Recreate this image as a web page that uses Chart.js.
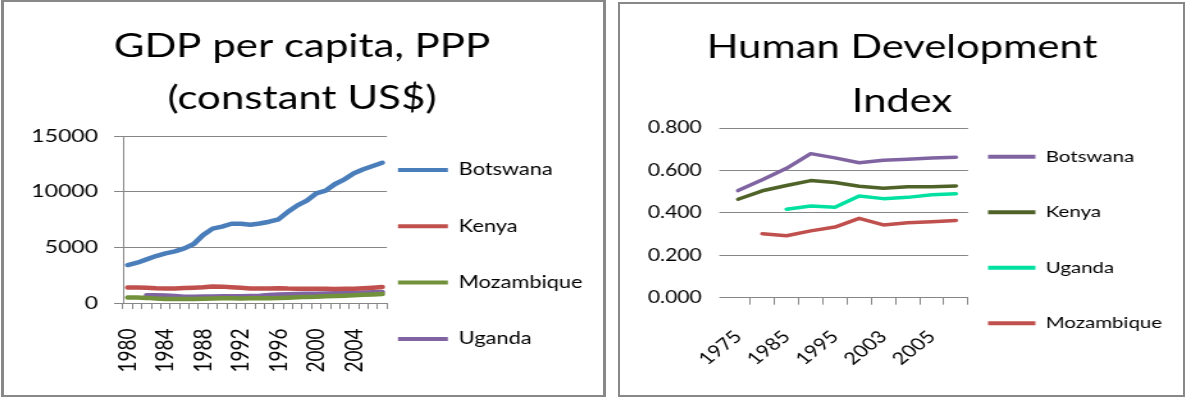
<!DOCTYPE html>
<html>
<head>
<meta charset="utf-8">
<script src="https://cdn.jsdelivr.net/npm/chart.js@4.4.1/dist/chart.umd.min.js"></script>
<style>
  html, body { margin: 0; padding: 0; background: #fff; width: 1186px; height: 398px; overflow: hidden; }
  .panel { position: absolute; box-sizing: border-box; border: 3px solid #888; border-top-width: 2px; border-bottom-width: 2px; }
  #p1 { left: 1px; top: 0px; width: 605px; height: 397px; }
  #p2 { left: 618px; top: 2px; width: 567px; height: 395px; border-width: 2px; }
  canvas { position: absolute; }
</style>
</head>
<body>
<div class="panel" id="p1"></div>
<div class="panel" id="p2"></div>
<canvas id="gdp"></canvas>
<canvas id="hdi"></canvas>
<script>
// GDP per capita, PPP (constant US$), 1980-2007
const gdpYears = ['1980','1981','1982','1983','1984','1985','1986','1987','1988','1989',
                  '1990','1991','1992','1993','1994','1995','1996','1997','1998','1999',
                  '2000','2001','2002','2003','2004','2005','2006','2007'];
const gdpBotswana = [3410, 3620, 3920, 4220, 4460, 4640, 4910, 5300, 6110, 6680,
                     6860, 7120, 7110, 7030, 7140, 7300, 7520, 8200, 8770, 9190,
                     9850, 10090, 10690, 11110, 11650, 12010, 12310, 12600];
const gdpKenya = [1400, 1400, 1380, 1320, 1300, 1300, 1340, 1380, 1410, 1480,
                  1470, 1410, 1360, 1310, 1300, 1310, 1330, 1300, 1290, 1280,
                  1270, 1270, 1260, 1270, 1290, 1330, 1380, 1440];
const gdpMozambique = [500, 490, 460, 400, 370, 350, 360, 370, 390, 410,
                       420, 430, 400, 420, 430, 420, 440, 480, 520, 550,
                       560, 600, 630, 660, 700, 740, 770, 800];
const gdpUganda = [null, null, 690, 700, 680, 620, 570, 560, 580, 590,
                   600, 610, 610, 640, 660, 720, 760, 780, 800, 820,
                   830, 850, 870, 880, 910, 940, 960, 990];
const gdpTicks = [0, 5000, 10000, 15000];

// Human Development Index
const hdiYears = ['1975','1980','1985','1990','1995','2000','2003','2004','2005','2006'];
const hdiBotswana = [0.505, 0.556, 0.610, 0.679, 0.659, 0.636, 0.648, 0.653, 0.658, 0.662];
const hdiKenya = [0.464, 0.504, 0.529, 0.552, 0.543, 0.525, 0.516, 0.523, 0.523, 0.527];
const hdiUganda = [null, null, 0.417, 0.432, 0.426, 0.479, 0.467, 0.473, 0.485, 0.490];
const hdiMozambique = [null, 0.302, 0.292, 0.315, 0.333, 0.374, 0.343, 0.353, 0.358, 0.364];
const hdiTicks = [0, 0.2, 0.4, 0.6, 0.8];

// The charts are drawn on a narrower canvas and widened by CSS (wide-set look).
const STRETCH = 1.28;
const FONT = 'Lato';
const GRID = '#868686';

function placeCanvas(id, left, top, w, h) {
  const c = document.getElementById(id);
  c.width = Math.round(w / STRETCH);
  c.height = h;
  c.style.left = left + 'px';
  c.style.top = top + 'px';
  c.style.width = w + 'px';
  c.style.height = h + 'px';
  return c;
}

const measureCtx = document.createElement('canvas').getContext('2d');
function textWidth(str, size) {
  measureCtx.font = size + 'px ' + FONT;
  return measureCtx.measureText(str).width;
}

// Works out layout paddings so that the plot area spans [plotLeft, plotRight]
// and the title is centred on titleCenter (all in canvas units).
function frame(W, plotLeft, plotRight, titleCenter, legendPad, boxW, legendSize, names) {
  const maxText = Math.max(...names.map(n => textWidth(n, legendSize)));
  const legendW = legendPad + boxW + legendSize / 2 + maxText + 10;
  const right = Math.max(0, W - plotRight - legendW);
  const left = Math.max(0, 2 * titleCenter - W + right);
  return { left, right, yWidth: plotLeft - left };
}

function lineLegendLabels(chart) {
  return Chart.defaults.plugins.legend.labels.generateLabels(chart).map(it =>
    Object.assign({}, it, { text: [it.text], fillStyle: it.strokeStyle, lineWidth: 0 }));
}

function series(label, data, color, width) {
  return {
    label, data,
    borderColor: color, backgroundColor: color,
    borderWidth: width, pointRadius: 0, tension: 0,
    borderCapStyle: 'round', borderJoinStyle: 'round', spanGaps: false
  };
}

// ---- GDP chart ----
const c1 = placeCanvas('gdp', 4, 3, 599, 392);
const gdpNames = ['Botswana', 'Kenya', 'Mozambique', 'Uganda'];
const f1 = frame(c1.width, 93.0, 299.2, 232.8, 8.6, 39, 17, gdpNames);
new Chart(c1, {
  type: 'line',
  data: {
    labels: gdpYears,
    datasets: [
      series(gdpNames[0], gdpBotswana, '#4A7EBB', 4.5),
      series(gdpNames[1], gdpKenya, '#C0504D', 4.5),
      series(gdpNames[2], gdpMozambique, '#71913A', 4.5),
      series(gdpNames[3], gdpUganda, '#8064A2', 4.5)
    ]
  },
  options: {
    responsive: false, animation: false, devicePixelRatio: 1,
    layout: { padding: { left: f1.left, right: f1.right, top: 0, bottom: 8.3 } },
    plugins: {
      tooltip: { enabled: false },
      title: {
        display: true, text: ['GDP per capita, PPP', '(constant US$)'],
        color: '#000', font: { family: FONT, size: 32.8, weight: 'normal', lineHeight: '51.5px' },
        padding: { top: 18, bottom: 12 }
      },
      legend: {
        position: 'right', align: 'end', maxWidth: 400,
        labels: {
          generateLabels: lineLegendLabels,
          boxWidth: 39, boxHeight: 4, padding: 8.6, color: '#000',
          font: { family: FONT, size: 17, lineHeight: '47.7px' }
        }
      }
    },
    scales: {
      x: {
        type: 'category', offset: true,
        grid: { offset: true, drawOnChartArea: false, drawTicks: true, tickLength: 6, color: GRID },
        border: { display: true, color: GRID },
        ticks: {
          autoSkip: false, minRotation: 90, maxRotation: 90, padding: 19.5,
          color: '#000', font: { family: FONT, size: 19 },
          callback(v, i) { return i % 4 === 0 ? this.getLabelForValue(v) : ''; }
        },
        afterFit(s) { s.height = 83.7; }
      },
      y: {
        min: gdpTicks[0], max: gdpTicks[gdpTicks.length - 1],
        afterBuildTicks(s) { s.ticks = gdpTicks.map(v => ({ value: v })); },
        grid: { color: GRID, tickLength: 7, drawTicks: true },
        border: { display: true, color: GRID },
        ticks: {
          padding: 12.5, color: '#000', font: { family: FONT, size: 18 },
          callback(v) { return String(v); }
        },
        afterFit(s) { s.width = f1.yWidth; }
      }
    }
  }
});

// ---- HDI chart ----
const c2 = placeCanvas('hdi', 620, 4, 562, 391);
const hdiNames = ['Botswana', 'Kenya', 'Uganda', 'Mozambique'];
const f2 = frame(c2.width, 82.8, 271.9, 220.3, 15.6, 37, 16, hdiNames);
new Chart(c2, {
  type: 'line',
  data: {
    labels: hdiYears,
    datasets: [
      series(hdiNames[0], hdiBotswana, '#8064A2', 3.5),
      series(hdiNames[1], hdiKenya, '#4F6228', 3.5),
      series(hdiNames[2], hdiUganda, '#00E0A0', 3.5),
      series(hdiNames[3], hdiMozambique, '#C0504D', 3.5)
    ]
  },
  options: {
    responsive: false, animation: false, devicePixelRatio: 1,
    layout: { padding: { left: f2.left, right: f2.right, top: 0, bottom: 24.2 } },
    plugins: {
      tooltip: { enabled: false },
      title: {
        display: true, text: ['Human Development', 'Index'],
        color: '#000', font: { family: FONT, size: 32.6, weight: 'normal', lineHeight: '53.5px' },
        padding: { top: 17, bottom: 0 }
      },
      legend: {
        position: 'right', align: 'end', maxWidth: 400,
        labels: {
          generateLabels: lineLegendLabels,
          boxWidth: 37, boxHeight: 4, padding: 15.6, color: '#000',
          font: { family: FONT, size: 16, lineHeight: '39.9px' }
        }
      }
    },
    scales: {
      x: {
        type: 'category', offset: true,
        grid: {
          offset: true, drawOnChartArea: false, drawTicks: true, tickLength: 7,
          tickColor: (ctx) => ctx.index === 0 ? 'rgba(0,0,0,0)' : GRID
        },
        border: { display: true, color: GRID },
        ticks: {
          autoSkip: false, minRotation: 45, maxRotation: 45, padding: 22,
          color: '#000', font: { family: FONT, size: 17 },
          callback(v, i) { return i % 2 === 0 ? this.getLabelForValue(v) : ''; }
        },
        afterFit(s) { s.height = 73.1; }
      },
      y: {
        min: hdiTicks[0], max: hdiTicks[hdiTicks.length - 1],
        afterBuildTicks(s) { s.ticks = hdiTicks.map(v => ({ value: v })); },
        grid: { color: GRID, tickLength: 5.2, drawTicks: true },
        border: { display: false },
        ticks: {
          padding: 13.75, color: '#000', font: { family: FONT, size: 16.5 },
          callback(v) { return Number(v).toFixed(3); }
        },
        afterFit(s) { s.width = f2.yWidth; }
      }
    }
  }
});
</script>
</body>
</html>
